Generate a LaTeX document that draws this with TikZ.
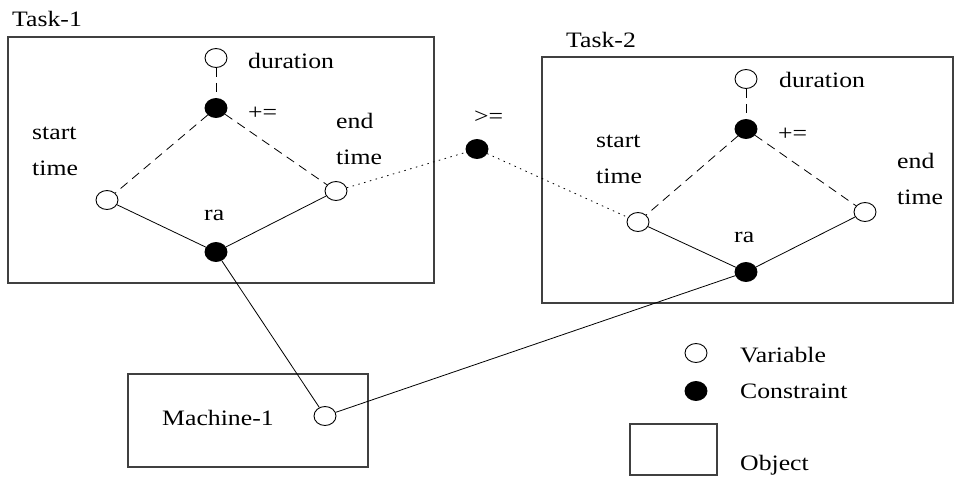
\documentclass[tikz,border=0pt]{standalone}
\usepackage{fontspec}
\setmainfont[FakeStretch=1.17]{Liberation Serif}
\usetikzlibrary{shapes.geometric}

\begin{document}
\begin{tikzpicture}[x=1pt, y=-1pt, font=\fontsize{22}{36}\selectfont,
    var/.style={ellipse, draw, line width=0.9pt, minimum width=22pt,
      minimum height=19pt, inner sep=0pt},
    con/.style={var, fill=black},
    txt/.style={inner sep=0pt, anchor=west, align=left},
    objbox/.style={draw=black!75, line width=1.1pt},
    link/.style={line width=0.8pt},
    sumlink/.style={link, dash pattern=on 9pt off 6pt},
    preclink/.style={link, dash pattern=on 1.5pt off 4.5pt}]

  \useasboundingbox (0,0) rectangle (959,479);

  % objects
  \draw[objbox] (8,37) rectangle (434,283);
  \node[txt] (t1) at (12,19) {Task-1};
  \draw[objbox] (542,57) rectangle (953,303);
  \node[txt] (t2) at (566,40) {Task-2};
  \draw[objbox] (128,374) rectangle (368,467);
  \node[txt] (m1) at (162,418) {Machine-1};

  % task 1
  \node[var] (dur1) at (216,58) {};
  \node[con] (add1) at (216,108) {};
  \node[var] (st1) at (107,200) {};
  \node[var] (et1) at (336,191) {};
  \node[con] (ra1) at (216,252) {};
  \node[txt] at (248,61) {duration};
  \node[txt] at (248,113) {+=};
  \node[txt] at (32,151) {start\\time};
  \node[txt] at (336,139) {end\\time};
  \node[txt] at (204,215) {ra};

  % task 2
  \node[var] (dur2) at (746,79) {};
  \node[con] (add2) at (746,129) {};
  \node[var] (st2) at (638,222) {};
  \node[var] (et2) at (865,212) {};
  \node[con] (ra2) at (746,272) {};
  \node[txt] at (779,80) {duration};
  \node[txt] at (778,134) {+=};
  \node[txt] at (596,159) {start\\time};
  \node[txt] at (897,179) {end\\time};
  \node[txt] at (734,237) {ra};

  % precedence
  \node[con] (ge) at (477,149) {};
  \node[txt] at (474,117) {>=};

  % machine
  \node[var] (mc) at (325,416) {};

  % links
  \draw[sumlink] (dur1) -- (add1);
  \draw[sumlink] (add1) -- (st1);
  \draw[sumlink] (add1) -- (et1);
  \draw[link] (st1) -- (ra1) -- (et1);
  \draw[sumlink] (dur2) -- (add2);
  \draw[sumlink] (add2) -- (st2);
  \draw[sumlink] (add2) -- (et2);
  \draw[link] (st2) -- (ra2) -- (et2);
  \draw[preclink] (et1) -- (ge) -- (st2);
  \draw[link] (ra1) -- (mc) -- (ra2);

  % legend
  \node[var] (lv) at (696,353) {};
  \node[txt] at (740,355) {Variable};
  \node[con] (lc) at (696,391) {};
  \node[txt] at (740,391) {Constraint};
  \draw[objbox] (630,424) rectangle (717,475);
  \node[txt] at (740,465) {Object};

\end{tikzpicture}
\end{document}
